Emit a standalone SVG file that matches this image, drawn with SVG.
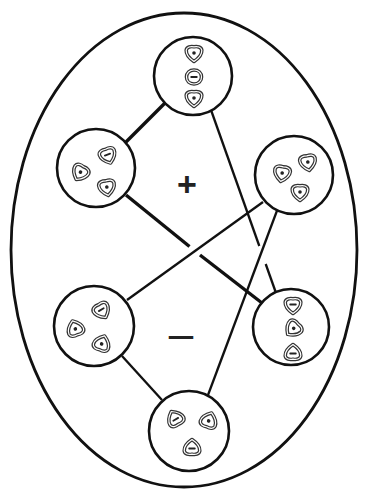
<svg xmlns="http://www.w3.org/2000/svg" xmlns:xlink="http://www.w3.org/1999/xlink" width="367" height="495" viewBox="0 0 367 495">
<style>
.frame{fill:none;stroke:#111;stroke-width:2.8}
.node{fill:#fff;stroke:#111;stroke-width:2.6}
.thick{fill:none;stroke:#111;stroke-width:3.4;stroke-linecap:butt}
.thin{fill:none;stroke:#111;stroke-width:2.3;stroke-linecap:butt}
.io{fill:none;stroke:#333;stroke-width:3.6;stroke-linejoin:round}
.ii{fill:none;stroke:#fff;stroke-width:1.2;stroke-linejoin:round}
.dot{fill:#222}
.dash{stroke:#222;stroke-width:1.8;stroke-linecap:round}
.sign{font-family:"Liberation Sans",Arial,sans-serif;fill:#222;text-anchor:middle}
</style>
<defs>
<path id="shp" d="M0,7.5 C-4.5,4.5 -8,0 -7.8,-3.8 C-7.3,-7.3 -3.3,-7.8 0,-7.2 C3.3,-7.8 7.3,-7.3 7.8,-3.8 C8,0 4.5,4.5 0,7.5 Z"/>
<path id="rnd" d="M0,7 C-4.5,7 -7.5,4 -7.5,0 C-7.5,-4 -4.5,-7 0,-7 C4.5,-7 7.5,-4 7.5,0 C7.5,4 4.5,7 0,7 Z"/>
<g id="icD"><use xlink:href="#shp" class="io"/><use xlink:href="#shp" class="ii"/><circle cx="0" cy="-1" r="1.8" class="dot"/></g>
<g id="icH"><use xlink:href="#shp" class="io"/><use xlink:href="#shp" class="ii"/><line x1="-2.8" y1="-1.5" x2="2.8" y2="-1.5" class="dash"/></g>
<g id="icR"><use xlink:href="#rnd" class="io"/><use xlink:href="#rnd" class="ii"/><line x1="-2.8" y1="0" x2="2.8" y2="0" class="dash"/></g>
</defs>
<ellipse class="frame" cx="184" cy="250" rx="173" ry="237"/>
<g id="connectors">
<line class="thick" x1="166" y1="102" x2="125" y2="143"/>
<line class="thin" x1="211" y1="110" x2="259.3" y2="246"/>
<line class="thin" x1="265.7" y1="264" x2="276" y2="293"/>
<line class="thick" x1="126" y1="195" x2="189.5" y2="246.5"/>
<line class="thick" x1="200" y1="255" x2="262" y2="303"/>
<line class="thin" x1="263" y1="202" x2="127" y2="300"/>
<line class="thin" x1="278" y1="208" x2="208" y2="395"/>
<line class="thin" x1="122" y1="356" x2="162" y2="400"/>
</g>
<g id="n-top"><circle class="node" cx="193" cy="76" r="39"/>
<use xlink:href="#icD" transform="translate(194,54)"/>
<use xlink:href="#icR" transform="translate(194,77)"/>
<use xlink:href="#icD" transform="translate(194,99)"/></g>
<g id="n-left-upper"><circle class="node" cx="96" cy="168" r="39"/>
<use xlink:href="#icH" transform="translate(108,156) rotate(-20)"/>
<use xlink:href="#icD" transform="translate(80,173) rotate(30)"/>
<use xlink:href="#icD" transform="translate(107,188) rotate(-10)"/></g>
<g id="n-right-upper"><circle class="node" cx="294" cy="175" r="39"/>
<use xlink:href="#icD" transform="translate(282,174) rotate(10)"/>
<use xlink:href="#icD" transform="translate(308,163) rotate(-10)"/>
<use xlink:href="#icD" transform="translate(300,193)"/></g>
<g id="n-left-lower"><circle class="node" cx="94" cy="326" r="40"/>
<use xlink:href="#icH" transform="translate(102,311) rotate(-30)"/>
<use xlink:href="#icD" transform="translate(75,328) rotate(160)"/>
<use xlink:href="#icD" transform="translate(102,343) rotate(200)"/></g>
<g id="n-right-lower"><circle class="node" cx="291" cy="327" r="38"/>
<use xlink:href="#icH" transform="translate(293,306)"/>
<use xlink:href="#icD" transform="translate(293,329) rotate(45)"/>
<use xlink:href="#icH" transform="translate(293,352) rotate(180)"/></g>
<g id="n-bottom"><circle class="node" cx="189" cy="431" r="40"/>
<use xlink:href="#icH" transform="translate(175,418) rotate(150)"/>
<use xlink:href="#icD" transform="translate(209,420) rotate(-160)"/>
<use xlink:href="#icH" transform="translate(192,447) rotate(180)"/></g>
<text class="sign" x="187" y="196" font-size="34" font-weight="bold">+</text>
<text class="sign" x="181" y="349" font-size="44">–</text>
</svg>
